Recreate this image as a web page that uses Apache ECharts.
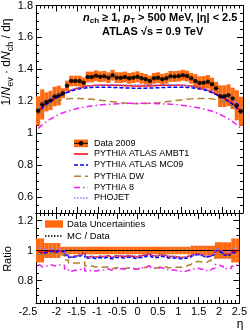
<!DOCTYPE html>
<html><head><meta charset="utf-8">
<script src="https://cdn.jsdelivr.net/npm/echarts@6/dist/echarts.min.js"></script>
<style>html,body{margin:0;padding:0;background:#fff}#c{width:250px;height:330px}</style>
</head><body><div id="c"></div>
<script>
// ---- data ----
const eta = [-2.45,-2.35,-2.25,-2.15,-2.05,-1.95,-1.85,-1.75,-1.65,-1.55,-1.45,-1.35,-1.25,-1.15,-1.05,-0.95,-0.85,-0.75,-0.65,-0.55,-0.45,-0.35,-0.25,-0.15,-0.05,0.05,0.15,0.25,0.35,0.45,0.55,0.65,0.75,0.85,0.95,1.05,1.15,1.25,1.35,1.45,1.55,1.65,1.75,1.85,1.95,2.05,2.15,2.25,2.35,2.45];
const data2009 = [1.14,1.18,1.196,1.205,1.23,1.236,1.25,1.297,1.327,1.327,1.327,1.316,1.352,1.352,1.36,1.354,1.356,1.348,1.363,1.348,1.348,1.352,1.344,1.348,1.354,1.344,1.338,1.327,1.344,1.348,1.338,1.344,1.356,1.355,1.358,1.363,1.358,1.344,1.327,1.314,1.316,1.322,1.306,1.281,1.232,1.232,1.238,1.218,1.175,1.137];
const relUnc = [0.08,0.08,0.05,0.05,0.05,0.05,0.025,0.025,0.025,0.025,0.025,0.025,0.025,0.025,0.025,0.025,0.025,0.025,0.025,0.025,0.025,0.025,0.025,0.025,0.025,0.025,0.025,0.025,0.025,0.025,0.025,0.025,0.025,0.025,0.025,0.025,0.025,0.025,0.032,0.032,0.032,0.032,0.032,0.032,0.055,0.055,0.055,0.055,0.08,0.08];
const ambt1 = [1.135,1.165,1.188,1.204,1.219,1.233,1.246,1.258,1.269,1.278,1.285,1.291,1.295,1.298,1.300,1.301,1.301,1.301,1.301,1.300,1.299,1.298,1.297,1.296,1.296,1.296,1.296,1.297,1.298,1.299,1.300,1.301,1.301,1.301,1.301,1.300,1.298,1.295,1.291,1.285,1.278,1.269,1.258,1.246,1.233,1.219,1.204,1.188,1.165,1.135];
const mc09 = [1.118,1.158,1.180,1.198,1.214,1.229,1.242,1.254,1.264,1.272,1.278,1.282,1.285,1.287,1.288,1.288,1.288,1.288,1.287,1.286,1.285,1.284,1.283,1.282,1.282,1.282,1.282,1.283,1.284,1.285,1.286,1.287,1.288,1.288,1.288,1.288,1.287,1.285,1.282,1.278,1.272,1.264,1.254,1.242,1.229,1.214,1.198,1.180,1.158,1.118];
const dw = [1.115,1.145,1.165,1.182,1.195,1.205,1.211,1.215,1.217,1.217,1.217,1.216,1.215,1.213,1.210,1.207,1.204,1.200,1.197,1.194,1.191,1.189,1.187,1.186,1.185,1.185,1.186,1.187,1.189,1.191,1.194,1.197,1.200,1.204,1.207,1.210,1.213,1.215,1.216,1.217,1.217,1.217,1.215,1.211,1.205,1.195,1.182,1.165,1.145,1.115];
const py8 = [1.030,1.052,1.072,1.089,1.104,1.117,1.128,1.137,1.145,1.152,1.158,1.163,1.167,1.171,1.174,1.177,1.179,1.181,1.183,1.184,1.185,1.186,1.187,1.187,1.187,1.187,1.187,1.187,1.186,1.185,1.184,1.183,1.181,1.179,1.177,1.174,1.171,1.167,1.163,1.158,1.152,1.145,1.137,1.128,1.117,1.104,1.089,1.072,1.052,1.030];
const phojet = [1.160,1.188,1.206,1.221,1.234,1.245,1.255,1.264,1.272,1.279,1.285,1.290,1.294,1.297,1.299,1.301,1.302,1.303,1.303,1.303,1.303,1.303,1.302,1.302,1.302,1.302,1.302,1.302,1.303,1.303,1.303,1.303,1.303,1.302,1.301,1.299,1.297,1.294,1.290,1.285,1.279,1.272,1.264,1.255,1.245,1.234,1.221,1.206,1.188,1.160];
const yTicksTop = [0.6,0.8,1.0,1.2,1.4,1.6,1.8];
const yTicksRatio = [0.8,1.0,1.2];
const legendNames = ['Data 2009','PYTHIA ATLAS AMBT1','PYTHIA ATLAS MC09','PYTHIA DW','PYTHIA 8','PHOJET'];
const ratioLegendNames = ['Data Uncertainties','MC / Data'];

// ---- style ----
const FONT = 'Liberation Sans';
const BLACK = '#000';
const ORANGE = '#ff6a10';
const HALF = 0.05;
const mcDefs = [
  {name:legendNames[1], vals:ambt1, color:'#ff0000', type:'solid'},
  {name:legendNames[2], vals:mc09, color:'#0000ff', type:[4,2]},
  {name:legendNames[3], vals:dw, color:'#b08030', type:[7,4]},
  {name:legendNames[4], vals:py8, color:'#ee22ee', type:[6,3,1.5,3]},
  {name:legendNames[5], vals:phojet, color:'#8080ff', type:[1.5,1.5]}
];

function bandRender(params, api){
  const x = api.value(0), lo = api.value(1), hi = api.value(2);
  const p1 = api.coord([x - HALF, hi]);
  const p2 = api.coord([x + HALF, lo]);
  return {type:'rect', shape:{x:p1[0], y:p1[1], width:p2[0]-p1[0], height:p2[1]-p1[1]}, style:{fill:ORANGE}};
}
function xerrRender(params, api){
  const x = api.value(0), y = api.value(1);
  const a = api.coord([x - HALF, y]), b = api.coord([x + HALF, y]);
  return {type:'line', shape:{x1:a[0],y1:a[1],x2:b[0],y2:b[1]}, style:{stroke:BLACK, lineWidth:1}};
}

function xAxisCfg(grid, pos, showLabels){
  return {type:'value', gridIndex:grid, position:pos, min:-2.5, max:2.5, interval:0.5,
    axisLine:{show:true,onZero:false,lineStyle:{color:BLACK,width:1}},
    axisTick:{show:true,inside:true,length:6,lineStyle:{color:BLACK,width:1}},
    minorTick:{show:true,splitNumber:5,length:3,lineStyle:{color:BLACK,width:1}},
    splitLine:{show:false}, minorSplitLine:{show:false},
    axisLabel:{show:showLabels,color:BLACK,fontFamily:FONT,fontSize:11,margin:3,
      formatter:v=>{const s=String(Math.round(v*10)/10); return v<=-2.5+1e-9 ? '{m|'+s+'}' : s;},
      rich:{m:{fontFamily:FONT,fontSize:11,color:BLACK,padding:[0,16,0,0]}}}
  };
}
function yMajor(grid,pos,min,max,majors,showLabels){
  return {type:'value',gridIndex:grid,position:pos,min:min,max:max,interval:0.05,
    axisLine:{show:true,onZero:false,lineStyle:{color:BLACK,width:1}},
    axisTick:{show:true,inside:true,length:6,customValues:majors,lineStyle:{color:BLACK,width:1}},
    splitLine:{show:false},
    axisLabel:{show:showLabels,customValues:majors,color:BLACK,fontFamily:FONT,fontSize:11,margin:3,
      formatter:v=>String(Math.round(v*10)/10)}
  };
}
function yMinor(grid,pos,min,max){
  return {type:'value',gridIndex:grid,position:pos,min:min,max:max,interval:0.05,
    axisLine:{show:false,onZero:false},
    axisTick:{show:true,inside:true,length:3,lineStyle:{color:BLACK,width:1}},
    splitLine:{show:false}, axisLabel:{show:false}
  };
}

const bandTop = eta.map((x,i)=>[x, data2009[i]*(1-relUnc[i]), data2009[i]*(1+relUnc[i])]);
const bandRatio = eta.map((x,i)=>[x, 1-relUnc[i], 1+relUnc[i]]);
const pts = eta.map((x,i)=>[x, data2009[i]]);

const series = [];
series.push({type:'custom', xAxisIndex:0, yAxisIndex:0, data:bandTop, renderItem:bandRender, encode:{x:0,y:[1,2]}, z:1, silent:true});
mcDefs.forEach(m=>{
  series.push({type:'line', name:m.name, xAxisIndex:0, yAxisIndex:0, data:eta.map((x,i)=>[x,m.vals[i]]),
    showSymbol:false, lineStyle:{color:m.color,width:1.5,type:m.type}, z:3, silent:true});
});
series.push({type:'custom', xAxisIndex:0, yAxisIndex:0, data:pts, renderItem:xerrRender, encode:{x:0,y:1}, z:4, silent:true});
series.push({type:'scatter', xAxisIndex:0, yAxisIndex:0, data:pts, symbol:'circle', symbolSize:4.5, itemStyle:{color:BLACK}, z:5, silent:true});
// ratio panel
series.push({type:'custom', xAxisIndex:2, yAxisIndex:4, data:bandRatio, renderItem:bandRender, encode:{x:0,y:[1,2]}, z:1, silent:true});
series.push({type:'line', xAxisIndex:2, yAxisIndex:4, data:[[-2.5,1],[2.5,1]], showSymbol:false, lineStyle:{color:BLACK,width:1.2}, z:2, silent:true});
mcDefs.forEach(m=>{
  series.push({type:'line', xAxisIndex:2, yAxisIndex:4, step:'middle', data:eta.map((x,i)=>[x,m.vals[i]/data2009[i]]),
    showSymbol:false, lineStyle:{color:m.color,width:1.5,type:m.type}, z:3, silent:true});
});

const txt = (x,y,text,size,extra)=>Object.assign({type:'text', x:x, y:y, silent:true,
  style:Object.assign({text:text, fill:BLACK, fontFamily:FONT, fontSize:size, textVerticalAlign:'middle'}, extra||{})});
const hline = (x1,x2,y,color,w,dash)=>({type:'line', silent:true, shape:{x1:x1,y1:y,x2:x2,y2:y}, style:{stroke:color,lineWidth:w,lineDash:dash||null}});

const LX1 = 74, LX2 = 88, LT = 94;
const rows = [143.3,154,165,176.3,187.5,198];
const graphic = [];
// header
graphic.push(txt(83,17.5,'{bi|n}{sub|ch}{b| ≥ 1, }{bi|p}{sub|T}{b| > 500 MeV, |η| < 2.5}',11,{
  rich:{b:{fontFamily:FONT,fontSize:11,fontWeight:'bold',lineHeight:15},
        bi:{fontFamily:FONT,fontSize:11,fontWeight:'bold',fontStyle:'italic',lineHeight:15},
        sub:{fontFamily:FONT,fontSize:8,fontWeight:'bold',lineHeight:9,verticalAlign:'bottom'}}}));
graphic.push(txt(102,32,'ATLAS √s = 0.9 TeV',11,{fontWeight:'bold'}));
// y titles
graphic.push({type:'text', x:7, y:62, rotation:Math.PI/2, silent:true, style:{
  text:'{t|1/}{ti|N}{s|ev}{t| · d}{ti|N}{s|ch}{t| / dη}', textAlign:'center', textVerticalAlign:'middle', fill:BLACK,
  rich:{t:{fontFamily:FONT,fontSize:12,lineHeight:16},ti:{fontFamily:FONT,fontSize:12,fontStyle:'italic',lineHeight:16},
        s:{fontFamily:FONT,fontSize:9,lineHeight:10,verticalAlign:'bottom'}}}});
graphic.push({type:'text', x:8, y:259, rotation:Math.PI/2, silent:true, style:{text:'Ratio', fontFamily:FONT, fontSize:11, fill:BLACK, textAlign:'center', textVerticalAlign:'middle'}});
graphic.push(txt(240,325,'η',12,{textAlign:'center'}));
// top legend
graphic.push({type:'rect', silent:true, shape:{x:LX1,y:rows[0]-3.8,width:LX2-LX1,height:7.6}, style:{fill:ORANGE}});
graphic.push(hline(LX1,LX2,rows[0],BLACK,1));
graphic.push({type:'circle', silent:true, shape:{cx:(LX1+LX2)/2, cy:rows[0], r:2.3}, style:{fill:BLACK}});
mcDefs.forEach((m,k)=>{
  graphic.push(hline(LX1,LX2,rows[k+1],m.color,1.5,m.type==='solid'?null:m.type));
});
legendNames.forEach((n,k)=>graphic.push(txt(LT,rows[k],n,9)));
// ratio legend
graphic.push({type:'rect', silent:true, shape:{x:45,y:220.3,width:18,height:7.4}, style:{fill:ORANGE}});
graphic.push(hline(45,63,236,BLACK,1.5,[1.5,1.5]));
graphic.push(txt(67,224,ratioLegendNames[0],9.5));
graphic.push(txt(67,236,ratioLegendNames[1],9.5));

const option = {
  animation:false,
  backgroundColor:'#fff',
  grid:[{left:36, top:5, width:207, height:208},{left:36, top:213, width:207, height:90}],
  xAxis:[xAxisCfg(0,'bottom',false), xAxisCfg(0,'top',false), xAxisCfg(1,'bottom',true), xAxisCfg(1,'top',false)],
  yAxis:[yMajor(0,'left',0.5,1.8,yTicksTop,true), yMinor(0,'left',0.5,1.8), yMajor(0,'right',0.5,1.8,yTicksTop,false), yMinor(0,'right',0.5,1.8),
         yMajor(1,'left',0.65,1.25,yTicksRatio,true), yMinor(1,'left',0.65,1.25), yMajor(1,'right',0.65,1.25,yTicksRatio,false), yMinor(1,'right',0.65,1.25)],
  series:series,
  graphic:graphic
};
const chart = echarts.init(document.getElementById('c'), null, {renderer:'canvas'});
chart.setOption(option);
</script></body></html>
